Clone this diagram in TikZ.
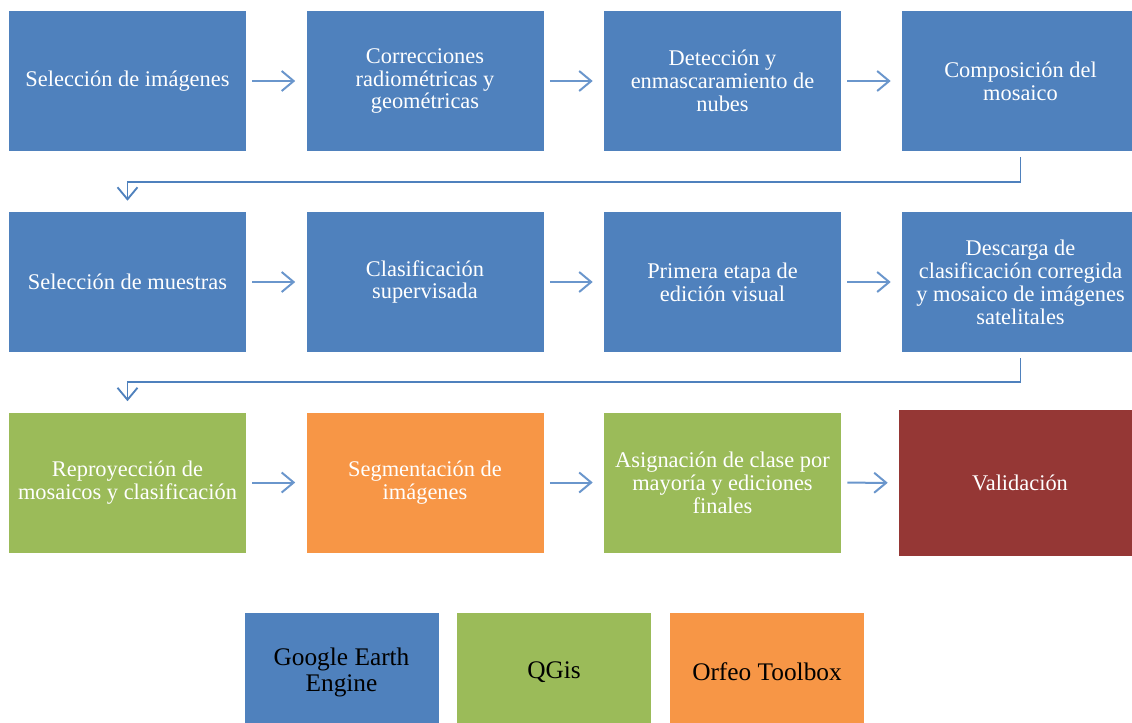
\documentclass[tikz,border=0pt]{standalone}
\usepackage{fontspec}
\setmainfont{Liberation Serif}
\usepackage{tikz}
\usetikzlibrary{arrows.meta}

\definecolor{geeblue}{HTML}{4F81BD}
\definecolor{qgisgreen}{HTML}{9BBB59}
\definecolor{otborange}{HTML}{F79646}
\definecolor{valred}{HTML}{953735}
\definecolor{arrowblue}{HTML}{6A96CC}

\tikzset{
  paso/.style={rectangle, minimum width=177.75pt, minimum height=105pt,
    inner sep=0pt, align=center, text=white,
    font=\fontsize{16.8}{17.2}\selectfont},
  leyenda/.style={paso, minimum width=145.5pt, minimum height=88.5pt, text=black,
    font=\fontsize{19}{19.5}\selectfont},
  flecha/.style={arrowblue, line width=1.5pt, -{Straight Barb[length=9pt,width=15pt]},
    shorten <=4.5pt, shorten >=8.25pt},
  codo/.style={geeblue, line width=1.4pt, -{Straight Barb[length=9pt,width=15pt]},
    shorten <=4.5pt, shorten >=8.25pt}
}

\begin{document}
\begin{tikzpicture}[x=0.75pt, y=-0.75pt]
  \useasboundingbox (0,0) rectangle (1132,722);

  % --- primera fila ---
  \node[paso, fill=geeblue] (sel)  at (127.5,81) {Selección de imágenes};
  \node[paso, fill=geeblue] (corr) at (425,81)   {Correcciones\\radiométricas y\\geométricas};
  \node[paso, fill=geeblue] (nub)  at (722.5,81) {Detección y\\enmascaramiento de\\nubes};
  \node[paso, fill=geeblue] (mos)  at (1020.5,81) {Composición del\\mosaico};

  % --- segunda fila ---
  \node[paso, fill=geeblue] (mue)  at (127.5,282) {Selección de muestras};
  \node[paso, fill=geeblue] (cla)  at (425,282)   {Clasificación\\supervisada};
  \node[paso, fill=geeblue] (edi)  at (722.5,282) {Primera etapa de\\edición visual};
  \node[paso, fill=geeblue] (des)  at (1020.5,282) {Descarga de\\clasificación corregida\\y mosaico de imágenes\\satelitales};

  % --- tercera fila ---
  \node[paso, fill=qgisgreen] (rep) at (127.5,482.5) {Reproyección de\\mosaicos y clasificación};
  \node[paso, fill=otborange] (seg) at (425,482.5)   {Segmentación de\\imágenes};
  \node[paso, fill=qgisgreen] (asi) at (722.5,482.5) {Asignación de clase por\\mayoría y ediciones\\finales};
  \node[paso, fill=valred, minimum width=181.5pt, minimum height=109.5pt] (val) at (1020,483) {Validación};

  % --- flechas ---
  \draw[flecha] (sel) -- (corr);
  \draw[flecha] (corr) -- (nub);
  \draw[flecha] (nub) -- (mos);
  \draw[flecha] (mue) -- (cla);
  \draw[flecha] (cla) -- (edi);
  \draw[flecha] (edi) -- (des);
  \draw[flecha] (rep) -- (seg);
  \draw[flecha] (seg) -- (asi);
  \draw[flecha] (asi) -- (val);

  % --- cambios de fila ---
  \draw[codo] (mos.south) -- ++(0,31) -| (mue.north);
  \draw[codo] (des.south) -- ++(0,30) -| (rep.north);

  % --- leyenda ---
  \node[leyenda, fill=geeblue]   (gee) at (341.5,672) {Google Earth\\Engine};
  \node[leyenda, fill=qgisgreen] (qgs) at (554,672)   {QGis};
  \node[leyenda, fill=otborange] (otb) at (767,672)   {Orfeo Toolbox};
\end{tikzpicture}
\end{document}
